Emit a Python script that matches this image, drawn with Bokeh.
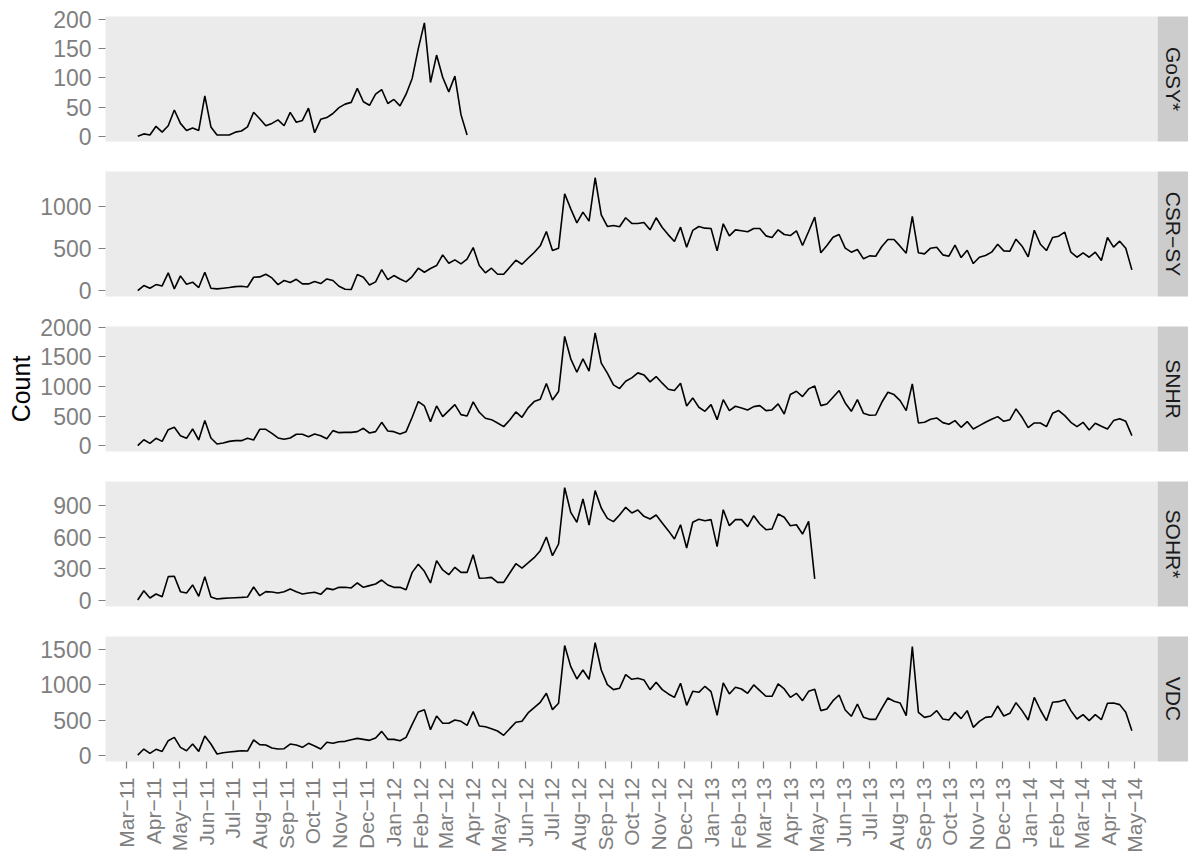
import pandas as pd
from datetime import datetime
from math import pi
from bokeh.plotting import figure
from bokeh.layouts import column, row
from bokeh.models import (Range1d, FixedTicker, MonthsTicker,
                          DatetimeTickFormatter, ColumnDataSource)
from bokeh.core.properties import value
from bokeh.embed import file_html
from bokeh.resources import INLINE

# ---------------- data (weekly counts, first week 2011-03-14) ----------------
first_week = "2011-03-14"

panels = ["GoSY*", "CSR\u2212SY", "SNHR", "SOHR*", "VDC"]

gosy = [0, 4, 2, 17, 7, 18, 45, 22, 10, 14, 10, 69, 16, 2, 2, 2, 7, 9, 16, 41,
        30, 18, 22, 28, 18, 41, 24, 27, 48, 6, 29, 32, 39, 49, 55, 58, 82, 59, 53, 72,
        80, 56, 63, 52, 72, 99, 150, 194, 92, 139, 101, 76, 103, 37, 2]

csr_sy = [0, 60, 28, 71, 55, 210, 20, 174, 75, 99, 36, 217, 28, 20, 28, 36, 47, 51, 43, 158,
          162, 194, 150, 71, 119, 95, 134, 79, 79, 107, 83, 138, 119, 51, 16, 12, 190, 158, 67, 103,
          249, 130, 178, 138,
          103, 166, 265, 217, 261, 296, 423, 324, 364, 316,
          372, 510, 296, 210, 265, 194, 194, 277, 360, 312,
          383, 451, 530, 700, 474, 502, 1146, 968, 802, 929,
          822, 1336, 897, 759, 771, 755, 862, 795, 795, 806,
          719, 862, 747, 660, 581, 751, 514, 712, 759, 739,
          735, 470, 791, 648, 719, 708, 696, 735, 735, 648,
          628, 719,
          664, 652, 708, 534, 700, 870, 447, 534, 632, 664,
          502, 455, 486, 376, 411, 407, 522, 605, 605, 526,
          443, 878, 447, 435, 502, 514, 423, 407, 538, 391,
          478, 320, 395, 415, 455, 549, 470, 466, 609, 526,
          399, 715, 549, 474, 629, 644, 692, 455, 395, 447,
          395, 455, 356, 629, 514, 585, 502, 245]

snhr = [0, 101, 39, 124, 73, 270, 310, 169, 124, 282, 96, 423, 130, 28, 45, 73, 85, 85, 124, 96,
        276, 276, 208, 130, 107, 130, 192, 192, 152, 197, 169, 118, 254, 220, 225, 225, 237, 293, 214, 237,
        394, 248, 237, 197, 237, 479, 744, 670, 406, 670,
        490, 592, 693, 524, 501, 738, 563, 462, 439, 383,
        321, 434, 569, 479, 637, 744, 783, 1048, 772, 913,
        1842, 1465, 1239, 1465, 1256, 1904, 1392, 1223, 1025, 963,
        1087, 1144, 1228, 1194, 1076, 1166, 1054, 952, 930, 1054,
        670, 806, 648, 580, 693, 439, 777, 592, 665, 637,
        603, 659, 676, 592, 603, 704,
        535, 862, 918, 828, 958, 1008, 676, 704, 817, 930,
        721, 580, 777, 546, 513, 518, 732, 901, 862, 760,
        592, 1042, 383, 394, 445, 468, 389, 361, 423, 310,
        406, 282, 338, 394, 445, 490, 411, 439, 620, 479,
        304, 383, 383, 321, 546, 592, 507, 394, 321, 394,
        265, 377, 327, 282, 423, 456, 411, 169]

sohr = [6, 94, 25, 63, 38, 227, 230, 85, 72, 148, 41, 227, 35, 16, 22, 25, 28, 31, 35, 129,
        47, 85, 82, 72, 85, 110, 85, 63, 72, 79, 60, 116, 104, 126, 126, 120, 167, 126, 142, 157,
        195, 148, 126, 126, 104, 267, 343, 277, 167, 378,
        290, 245, 315, 267, 267, 434, 211, 214, 220, 173,
        173, 261, 349, 308, 356, 406, 472, 601, 425, 535,
        1067, 834, 740, 960, 714, 1039, 875, 777, 746, 809,
        881, 828, 856, 796, 771, 809, 733, 661, 582, 717,
        497, 740, 768, 755, 765, 510, 859, 708, 765, 765,
        699, 802, 724, 670, 677, 818, 787, 708, 717, 629,
        749, 205]

vdc = [9, 94, 33, 90, 61, 212, 259, 118, 71, 165, 61, 278, 165, 24, 42, 52, 61, 71, 66, 222,
       156, 151, 108, 94, 99, 165, 151, 118, 175, 137, 94, 189, 175, 198, 203, 226, 245, 231, 217, 250,
       344, 231, 231, 212, 259, 443, 618, 651, 368, 561,
       458, 458, 505, 486, 429, 623, 420, 410, 382, 349,
       288, 382, 472, 486, 604, 679, 755, 882, 651, 741,
       1557, 1259, 1085, 1212, 1080, 1599, 1212, 1005, 934, 953,
       1146, 1080, 1094, 1071, 934, 1038, 934, 873, 825, 1024,
       712, 910, 896, 981, 906, 571, 1028, 873, 967, 943,
       882, 1000, 920, 840, 840, 1014,
       943, 825, 882, 778, 910, 939, 637, 660, 778, 858,
       646, 557, 731, 542, 514, 514, 670, 816, 769, 745,
       566, 1542, 613, 542, 561, 637, 519, 505, 613, 524,
       637, 401, 486, 542, 552, 703, 561, 599, 750, 637,
       505, 825, 646, 495, 755, 764, 792, 637, 519, 580,
       495, 580, 509, 741, 745, 722, 613, 354]

series = [gosy, csr_sy, snhr, sohr, vdc]

y_ticks = [[0, 50, 100, 150, 200],
           [0, 500, 1000],
           [0, 500, 1000, 1500, 2000],
           [0, 300, 600, 900],
           [0, 500, 1000, 1500]]

y_limits = [(-9, 205), (-70, 1410), (-98, 2010), (-55, 1125), (-82, 1685)]
x_limits = (datetime(2011, 2, 5), datetime(2014, 5, 27, 10))

# ---------------- styling / layout ----------------
FONT = "Liberation Sans"
GREY = "#7F7F7F"
PANEL_BG = "#EBEBEB"
STRIP_BG = "#CCCCCC"

LABEL_W = 37
STRIP_W = 31
LEFT_B = 68
FRAME_W = 1052
PLOT_W = LEFT_B + FRAME_W
FRAME_H = 125
GAP = 15
TOP0 = 16
BOTTOM_LAST = 95

xr = Range1d(*x_limits)

rows = []
n = len(panels)
for k in range(n):
    top = TOP0 if k == 0 else GAP
    bottom = BOTTOM_LAST if k == n - 1 else GAP
    h = top + FRAME_H + bottom
    last = (k == n - 1)

    dates = pd.date_range(first_week, periods=len(series[k]), freq="7D")
    src = ColumnDataSource(dict(date=dates, count=series[k]))

    p = figure(width=PLOT_W, height=h, x_range=xr, y_range=Range1d(*y_limits[k]),
               x_axis_type="datetime", toolbar_location=None, output_backend="svg",
               min_border_left=LEFT_B, min_border_right=0,
               min_border_top=top, min_border_bottom=bottom,
               x_axis_location="below" if last else None)
    p.background_fill_color = PANEL_BG
    p.border_fill_color = "white"
    p.outline_line_color = None
    p.grid.visible = False
    p.line(x="date", y="count", source=src, line_color="black", line_width=1.6)

    ya = p.yaxis[0]
    ya.ticker = FixedTicker(ticks=y_ticks[k])
    ya.axis_line_color = None
    ya.major_tick_out = 7
    ya.major_tick_in = 0
    ya.major_tick_line_color = GREY
    ya.major_tick_line_width = 1.2
    ya.minor_tick_line_color = None
    ya.major_label_text_color = GREY
    ya.major_label_text_font = FONT
    ya.major_label_text_font_size = "23px"
    ya.major_label_standoff = 7

    if last:
        xa = p.xaxis[0]
        xa.ticker = MonthsTicker(months=list(range(12)))
        fmt = "%b\u2212%y"
        xa.formatter = DatetimeTickFormatter(months=fmt, days=fmt, years=fmt)
        xa.major_label_orientation = pi / 2
        xa.axis_line_color = None
        xa.major_tick_out = 7
        xa.major_tick_in = 0
        xa.major_tick_line_color = GREY
        xa.major_tick_line_width = 1.2
        xa.minor_tick_line_color = None
        xa.major_label_text_color = GREY
        xa.major_label_text_font = FONT
        xa.major_label_text_font_size = "21px"
        xa.major_label_standoff = 9

    s = figure(width=STRIP_W, height=h, x_range=(0, 1), y_range=(0, 1),
               toolbar_location=None, output_backend="svg",
               min_border_left=0, min_border_right=0,
               min_border_top=top, min_border_bottom=bottom,
               x_axis_location=None, y_axis_location=None)
    s.background_fill_color = STRIP_BG
    s.border_fill_color = "white"
    s.outline_line_color = None
    s.grid.visible = False
    s.text(x=[0.5], y=[0.5], text=[panels[k]], angle=-pi / 2,
           text_align="center", text_baseline="middle",
           text_font=value(FONT), text_font_size="21px", text_color="#1A1A1A")

    rows.append(row(p, s))

total_h = TOP0 + n * FRAME_H + (n - 1) * 2 * GAP + BOTTOM_LAST
c = figure(width=LABEL_W, height=total_h, x_range=(0, 1), y_range=(0, 1),
           toolbar_location=None, output_backend="svg",
           min_border_left=0, min_border_right=0,
           min_border_top=TOP0, min_border_bottom=BOTTOM_LAST,
           x_axis_location=None, y_axis_location=None)
c.background_fill_color = "white"
c.border_fill_color = "white"
c.outline_line_color = None
c.grid.visible = False
c.text(x=[0.55], y=[0.5], text=["Count"], angle=pi / 2,
       text_align="center", text_baseline="middle",
       text_font=value(FONT), text_font_size="25px", text_color="black")

layout = row(c, column(*rows))

open("out.html", "w").write(file_html(layout, INLINE))
